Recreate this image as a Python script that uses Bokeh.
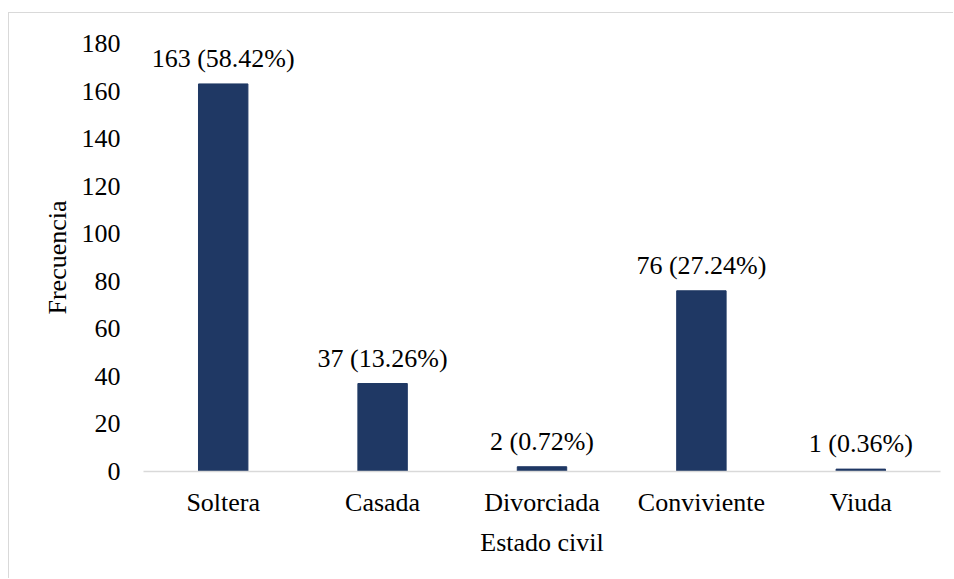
from bokeh.plotting import figure
from bokeh.models import ColumnDataSource, Range1d, LabelSet
from bokeh.core.properties import value
from bokeh.embed import file_html
from bokeh.resources import INLINE

categories = ["Soltera", "Casada", "Divorciada", "Conviviente", "Viuda"]
counts = [163, 37, 2, 76, 1]
percents = [58.42, 13.26, 0.72, 27.24, 0.36]
y_ticks = [0, 20, 40, 60, 80, 100, 120, 140, 160, 180]

labels = [f"{c} ({p:.2f}%)" for c, p in zip(counts, percents)]
source = ColumnDataSource(dict(cat=categories, val=counts, lab=labels))

FONT = "Liberation Serif"
FS = "26px"

p = figure(width=945, height=566, x_range=categories, y_range=Range1d(0, 180),
           output_backend="svg", toolbar_location=None,
           min_border_left=134, min_border_right=14, min_border_top=30,
           min_border_bottom=108)
p.margin = (12, 0, 0, 8)
p.styles = {"border-left": "1px solid #d9d9d9", "border-top": "1px solid #d9d9d9"}

p.vbar(x="cat", top="val", width=0.31, source=source, color="#1f3864")

p.add_layout(LabelSet(x="cat", y="val", text="lab", source=source,
                      text_align="center", text_baseline="alphabetic",
                      y_offset=17, text_font=value(FONT), text_font_size=value(FS),
                      text_color="#000000"))

p.outline_line_color = None
p.grid.grid_line_color = None
p.background_fill_color = "white"
p.border_fill_color = "white"

p.yaxis.ticker = y_ticks
p.yaxis.axis_line_color = None
p.yaxis.major_tick_line_color = None
p.yaxis.minor_tick_line_color = None
p.yaxis.major_label_standoff = 17
p.yaxis.axis_label = "Frecuencia"
p.yaxis.axis_label_standoff = 7

p.xaxis.axis_line_color = "#d9d9d9"
p.xaxis.axis_line_width = 1.5
p.xaxis.major_tick_line_color = None
p.xaxis.minor_tick_line_color = None
p.xaxis.major_label_standoff = 10
p.xaxis.axis_label = "Estado civil"
p.xaxis.axis_label_standoff = 8

for ax in (p.xaxis, p.yaxis):
    ax.major_label_text_font = FONT
    ax.major_label_text_font_size = FS
    ax.major_label_text_color = "#000000"
    ax.axis_label_text_font = FONT
    ax.axis_label_text_font_size = FS
    ax.axis_label_text_font_style = "normal"
    ax.axis_label_text_color = "#000000"

p.x_range.range_padding = 0

open("out.html", "w").write(file_html(p, INLINE))
